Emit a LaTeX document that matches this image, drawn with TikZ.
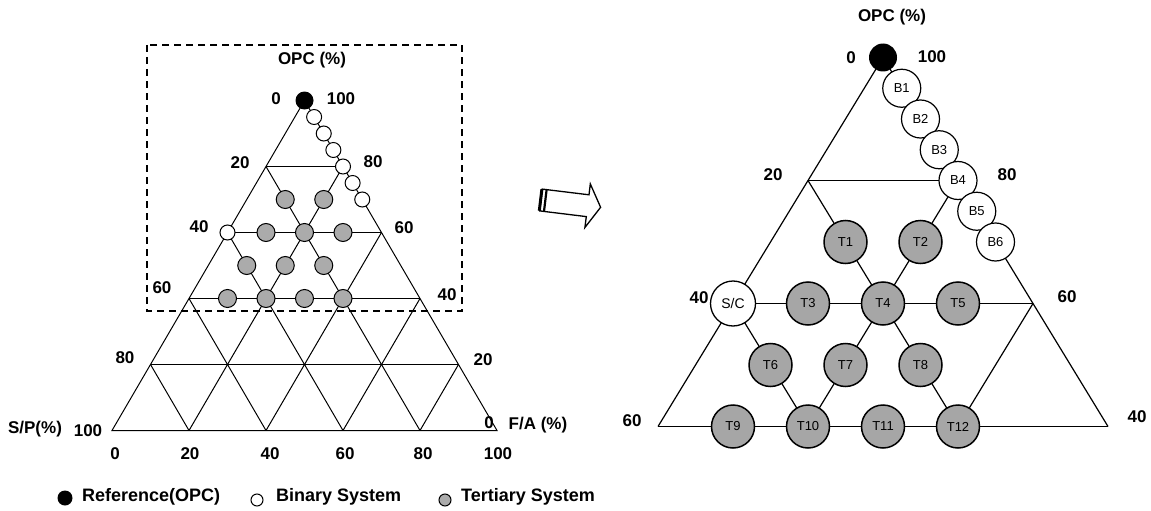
\documentclass[tikz,border=0pt]{standalone}
\usepackage{fontspec}
\setmainfont{Liberation Sans}
\begin{document}
\begin{tikzpicture}[x=1pt,y=-1pt,
  lbl/.style={font=\bfseries\fontsize{17}{17}\selectfont, inner sep=0pt},
  gridL/.style={line width=1pt},
  gridR/.style={line width=1.2pt},
  refL/.style={circle, fill=black, minimum size=18pt, inner sep=0pt},
  binL/.style={circle, draw, fill=white, minimum size=15pt, inner sep=0pt, line width=1pt},
  terL/.style={circle, draw, fill=black!33, minimum size=18pt, inner sep=0pt, line width=1pt},
  refR/.style={circle, fill=black, minimum size=28pt, inner sep=0pt},
  binR/.style={circle, draw, fill=white, minimum size=38pt, inner sep=0pt, line width=1.2pt, font=\fontsize{13}{13}\selectfont},
  scR/.style={circle, draw, fill=white, minimum size=45pt, inner sep=0pt, line width=1.3pt, font=\fontsize{14}{14}\selectfont},
  terR/.style={circle, draw, fill=black!35, minimum size=43pt, inner sep=0pt, line width=1.5pt, font=\fontsize{13}{13}\selectfont},
  boxdash/.style={line width=1.6pt, dash pattern=on 7pt off 5pt},
  legtxt/.style={font=\bfseries\fontsize{18}{18}\selectfont, inner sep=0pt, anchor=west}
]
\useasboundingbox (0,0) rectangle (1151,511);

% ternary grid coordinates
\foreach \o in {0,10,...,100}{
  \foreach \f in {0,10,...,100}{
    \coordinate (L\o-\f) at ({304.5-1.925*(100-\o)+3.85*\f},{100.5+3.3*(100-\o)});
    \coordinate (R\o-\f) at ({883-3.75*(100-\o)+7.5*\f},{57.5+6.15*(100-\o)});
  }
}

% ---------------- left diagram ----------------
\draw[boxdash] (147,45) rectangle (462,311);
\draw[gridL] (L100-0) -- (L0-0) -- (L0-100) -- cycle;
\foreach \k in {20,40,60,80}{
  \pgfmathtruncatemacro\m{100-\k}
  \draw[gridL] (L\k-0) -- (L\k-\m);
  \draw[gridL] (L0-\k) -- (L\m-\k);
  \draw[gridL] (L0-\m) -- (L\m-0);
}
\node[refL] (Lref) at (L100-0) {};
\foreach \o/\n in {95/1,90/2,85/3,80/4,75/5,70/6}
  \node[binL] (LB\n) at ({304.5+1.925*(100-\o)},{100.5+3.3*(100-\o)}) {};
\node[binL] (LSC) at (L60-0) {};
\foreach \o/\f/\n in {70/10/1,70/20/2,60/10/3,60/20/4,60/30/5,50/10/6,50/20/7,50/30/8,40/10/9,40/20/10,40/30/11,40/40/12}
  \node[terL] (LT\n) at (L\o-\f) {};

\node[lbl] (lopc) at (312,60) {OPC (\%)};
\node[lbl] (la0) at (276,99) {0};
\node[lbl] (lb100) at (341,99) {100};
\node[lbl] (la20) at (240,163) {20};
\node[lbl] (lb80) at (373,162) {80};
\node[lbl] (la40) at (199,227) {40};
\node[lbl] (lb60) at (404,228) {60};
\node[lbl] (la60) at (162,288) {60};
\node[lbl] (lb40) at (447,295) {40};
\node[lbl] (la80) at (125,358) {80};
\node[lbl] (lb20) at (483,360) {20};
\node[lbl] (lsp) at (35,429) {S/P(\%)};
\node[lbl] (la100) at (88,431) {100};
\node[lbl] (lb0) at (489,423) {0};
\node[lbl] (lfa) at (538,425) {F/A (\%)};
\foreach \v/\xx in {0/115,20/190,40/270,60/345,80/423,100/498}
  \node[lbl] (lc\v) at (\xx,454) {\v};

% legend
\node[circle, fill=black, minimum size=15pt, inner sep=0pt] (legref) at (65,498) {};
\node[legtxt] (legreft) at (82,497) {Reference(OPC)};
\node[circle, draw, fill=white, minimum size=12pt, inner sep=0pt, line width=1pt] (legbin) at (257,500) {};
\node[legtxt] (legbint) at (276,497) {Binary System};
\node[circle, draw, fill=black!33, minimum size=12pt, inner sep=0pt, line width=1pt] (legter) at (445,500) {};
\node[legtxt] (legtert) at (461,497) {Tertiary System};

% ---------------- arrow ----------------
\draw[line width=1.3pt, line join=miter] (542.3,189.1) -- (589.0,194.8) -- (590.3,183.9) -- (600.6,207.3) -- (584.9,227.5) -- (586.3,216.6) -- (539.7,210.9) -- cycle;
\draw[line width=3pt] (541.9,189.2) -- (539.3,210.8);
\draw[line width=2.2pt] (546.6,189.7) -- (544.0,211.3);

% ---------------- right diagram ----------------
\draw[gridR] (R100-0) -- (R40-0);
\draw[gridR] (R100-0) -- (R40-60);
\draw[gridR] (R80-0) -- (R80-20);
\draw[gridR] (R60-0) -- (R60-40);
\draw[gridR] (R40-0) -- (R40-60);
\draw[gridR] (R80-0) -- (R40-40);
\draw[gridR] (R80-20) -- (R40-20);
\draw[gridR] (R60-0) -- (R40-20);
\draw[gridR] (R60-40) -- (R40-40);

\node[refR] (Rref) at (R100-0) {};
\foreach \o/\n in {95/1,90/2,85/3,80/4,75/5,70/6}
  \node[binR] (RB\n) at ({883+3.75*(100-\o)},{57.5+6.15*(100-\o)}) {B\n};
\node[scR] (RSC) at (R60-0) {S/C};
\foreach \o/\f/\n in {70/10/1,70/20/2,60/10/3,60/20/4,60/30/5,50/10/6,50/20/7,50/30/8,40/10/9,40/20/10,40/30/11,40/40/12}
  \node[terR] (RT\n) at (R\o-\f) {T\n};

\node[lbl] (ropc) at (892,17) {OPC (\%)};
\node[lbl] (ra0) at (851,58) {0};
\node[lbl] (rb100) at (932,57) {100};
\node[lbl] (ra20) at (773,175) {20};
\node[lbl] (rb80) at (1007,175) {80};
\node[lbl] (ra40) at (699,298) {40};
\node[lbl] (rb60) at (1067,297) {60};
\node[lbl] (ra60) at (632,421) {60};
\node[lbl] (rb40) at (1137,417) {40};
\end{tikzpicture}
\end{document}
